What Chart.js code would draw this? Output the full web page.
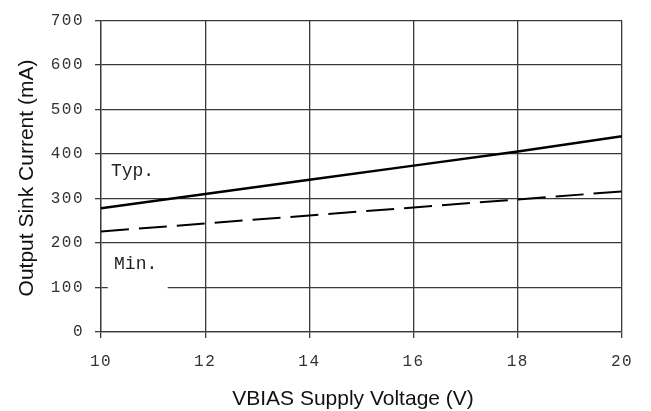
<!DOCTYPE html>
<html>
<head>
<meta charset="utf-8">
<style>
  body { margin: 0; background: #fff; }
  #wrap { width: 651px; height: 411px; }
</style>
</head>
<body>
<div id="wrap"><canvas id="sinkChart" width="651" height="411"></canvas></div>

<script src="https://cdn.jsdelivr.net/npm/chart.js"></script>
<script>
  // values
  const voltage = [10, 12, 14, 16, 18, 20];
  const typCurrent = [278, 310, 342, 374, 406, 440];
  const minCurrent = [226, 244, 262, 280, 298, 316];
  const yTicks = [0, 100, 200, 300, 400, 500, 600, 700];
  const xTitle = 'VBIAS Supply Voltage (V)';
  const yTitle = 'Output Sink Current (mA)';

  const gridColor = '#3a3a3a';
  const tickFont = { family: 'Liberation Mono', size: 16 };

  /* text bits the library does not draw the way the picture does */
  const annotations = {
    id: 'annotations',
    beforeDraw(chart) {
      chart.ctx.letterSpacing = '1.5px';
    },
    beforeDatasetsDraw(chart) {
      const { ctx, scales: { x, y } } = chart;
      // white patch behind "Min." that hides the 100 gridline
      ctx.save();
      ctx.fillStyle = '#fff';
      const l = x.getPixelForValue(10.13), r = x.getPixelForValue(11.28);
      const t = y.getPixelForValue(185), b = y.getPixelForValue(93);
      ctx.fillRect(l, t, r - l, b - t);
      ctx.restore();
    },
    afterDraw(chart) {
      const { ctx, scales: { x, y } } = chart;
      ctx.save();
      ctx.letterSpacing = '0px';
      ctx.fillStyle = '#222';
      ctx.font = '18px "Liberation Mono"';
      ctx.textBaseline = 'middle';
      ctx.textAlign = 'left';
      ctx.fillText('Typ.', x.getPixelForValue(10.19), y.getPixelForValue(362));
      ctx.fillText('Min.', x.getPixelForValue(10.25), y.getPixelForValue(152));

      ctx.fillStyle = '#111';
      ctx.font = '21px "Liberation Sans"';
      ctx.textAlign = 'center';
      ctx.fillText(xTitle, 353, 399);
      ctx.translate(27, 178);
      ctx.rotate(-Math.PI / 2);
      ctx.fillText(yTitle, 0, 0);
      ctx.restore();
    }
  };

  new Chart(document.getElementById('sinkChart'), {
    type: 'line',
    data: {
      datasets: [
        {
          label: 'Typ.',
          data: voltage.map((v, i) => ({ x: v, y: typCurrent[i] })),
          borderColor: '#000',
          borderWidth: 2.5,
          pointRadius: 0,
          fill: false
        },
        {
          label: 'Min.',
          data: voltage.map((v, i) => ({ x: v, y: minCurrent[i] })),
          borderColor: '#000',
          borderWidth: 2,
          borderDash: [28, 10],
          pointRadius: 0,
          fill: false
        }
      ]
    },
    options: {
      responsive: false,
      animation: false,
      layout: { padding: { top: 19, right: 29, left: 0, bottom: 0 } },
      plugins: {
        legend: { display: false },
        tooltip: { enabled: false }
      },
      scales: {
        x: {
          type: 'linear',
          min: 10,
          max: 20,
          afterFit: s => { s.height = 79; },
          ticks: { stepSize: 2, color: '#333', font: tickFont, padding: 14 },
          grid: { color: gridColor, lineWidth: 1.3, tickLength: 6, tickColor: gridColor },
          border: { color: gridColor, width: 1.3 }
        },
        y: {
          min: 0,
          max: 700,
          afterFit: s => { s.width = 101; },
          afterBuildTicks: s => { s.ticks = yTicks.map(v => ({ value: v })); },
          ticks: { color: '#333', font: tickFont, padding: 11 },
          grid: { color: gridColor, lineWidth: 1.3, tickLength: 6, tickColor: gridColor },
          border: { color: gridColor, width: 1.3 }
        }
      }
    },
    plugins: [annotations]
  });
</script>
</body>
</html>
